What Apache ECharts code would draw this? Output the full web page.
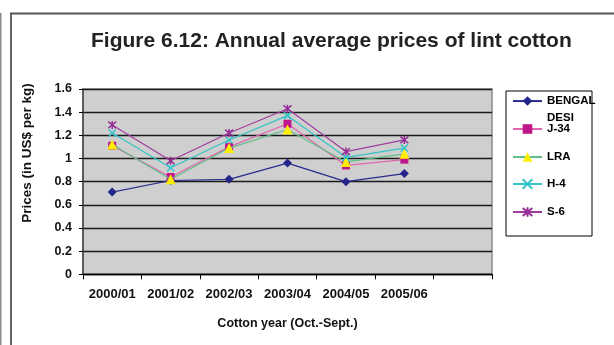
<!DOCTYPE html>
<html>
<head>
<meta charset="utf-8">
<script src="https://cdn.jsdelivr.net/npm/echarts@6/dist/echarts.min.js"></script>
<style>
  html, body { margin: 0; padding: 0; background: #fff; }
  #chart { width: 614px; height: 345px; }
</style>
</head>
<body>
<div id="chart"></div>
<script>
// Cotton years on the category axis (the last slot stays empty)
const years = ['2000/01', '2001/02', '2002/03', '2003/04', '2004/05', '2005/06', ''];

// Annual average lint prices, US$ per kg
const bengalDesi = [0.71, 0.81, 0.82, 0.96, 0.80, 0.87];
const j34        = [1.11, 0.84, 1.10, 1.30, 0.94, 0.99];
const lra        = [1.12, 0.82, 1.09, 1.25, 0.97, 1.04];
const h4         = [1.22, 0.92, 1.16, 1.37, 1.01, 1.09];
const s6         = [1.29, 0.98, 1.22, 1.43, 1.06, 1.16];

const seriesNames = ['BENGAL DESI', 'J-34', 'LRA', 'H-4', 'S-6'];

const FONT = 'Liberation Sans, Arial, sans-serif';
const crossPath = 'path://M0,0L10,10M10,0L0,10';
const starPath = 'path://M0,0L10,10M10,0L0,10M5,-1L5,11';

const styles = [
  { line: '#2b2b8f', marker: '#24248a', symbol: 'diamond', size: 9, stroke: false },
  { line: '#e065b0', marker: '#c0168c', symbol: 'rect', size: 8, stroke: false },
  { line: '#5fbf86', marker: '#ffee00', symbol: 'triangle', size: 10, stroke: false },
  { line: '#33c4c8', marker: '#33c4c8', symbol: crossPath, size: 7, stroke: true },
  { line: '#a03ca0', marker: '#952f95', symbol: starPath, size: 8, stroke: true }
];
const dataSets = [bengalDesi, j34, lra, h4, s6];

const series = seriesNames.map((name, i) => {
  const st = styles[i];
  return {
    name: name,
    type: 'line',
    data: dataSets[i],
    symbol: st.symbol,
    symbolSize: st.size,
    showAllSymbol: true,
    z: 3 + i,
    lineStyle: { color: st.line, width: 1.2 },
    itemStyle: st.stroke
      ? { color: 'rgba(0,0,0,0)', borderColor: st.marker, borderWidth: 1.5 }
      : { color: st.marker, borderWidth: 0 },
    emphasis: { disabled: true },
    animation: false
  };
});

// One legend block per series so each row sits at its own height
const legendRows = [101, 129, 157, 184, 212];
const legends = seriesNames.map((name, i) => ({
  data: [name],
  left: 512,
  top: i === 0 ? legendRows[i] - 25 : legendRows[i] - 7,
  padding: 0,
  itemWidth: 29,
  itemHeight: 12,
  itemGap: 0,
  selectedMode: false,
  // the long name wraps; a leading blank line keeps its first word level with the key
  formatter: n => n === 'BENGAL DESI' ? '\nBENGAL\nDESI' : n,
  textStyle: {
    fontFamily: FONT, fontWeight: 'bold', fontSize: 11.5, color: '#000',
    lineHeight: i === 0 ? 16.7 : 14
  }
}));

const option = {
  backgroundColor: '#fff',
  animation: false,
  title: {
    text: 'Figure 6.12: Annual average prices of lint cotton',
    left: 86, top: 26,
    textStyle: { fontFamily: FONT, fontWeight: 'bold', fontSize: 21, color: '#222' }
  },
  legend: legends,
  grid: {
    left: 83, right: 122, top: 89, bottom: 70.7, show: true,
    backgroundColor: '#cfcfcf', borderColor: '#8a8a8a', borderWidth: 1.5
  },
  xAxis: {
    type: 'category', data: years, boundaryGap: true,
    axisLine: { lineStyle: { color: '#000', width: 1.3 } },
    axisTick: { show: true, length: 5, lineStyle: { color: '#000' } },
    axisLabel: { interval: 0, margin: 14, fontFamily: FONT, fontWeight: 'bold', fontSize: 13, color: '#111' },
    name: 'Cotton year (Oct.-Sept.)', nameLocation: 'middle', nameGap: 43,
    nameTextStyle: { fontFamily: FONT, fontWeight: 'bold', fontSize: 12.5, color: '#111' }
  },
  yAxis: {
    type: 'value', min: 0, max: 1.6, interval: 0.2,
    axisLine: { show: true, lineStyle: { color: '#444', width: 1.5 } },
    axisTick: { show: true, length: 4, lineStyle: { color: '#000' } },
    axisLabel: { margin: 11, fontFamily: FONT, fontWeight: 'bold', fontSize: 12.5, color: '#111' },
    splitLine: { show: true, lineStyle: { color: '#1a1a1a', width: 1.3 } }
  },
  graphic: [
    // outer frame lines
    { type: 'line', shape: { x1: 0.75, y1: 13, x2: 0.75, y2: 345 }, style: { stroke: '#8a8a8a', lineWidth: 1.5 }, silent: true },
    { type: 'line', shape: { x1: 11, y1: 13.5, x2: 11, y2: 345 }, style: { stroke: '#555', lineWidth: 1.8 }, silent: true },
    { type: 'line', shape: { x1: 10, y1: 13.5, x2: 614, y2: 13.5 }, style: { stroke: '#555', lineWidth: 1.8 }, silent: true },
    // legend frame
    { type: 'rect', shape: { x: 506, y: 91, width: 86, height: 145 }, style: { fill: '#fff', stroke: '#000', lineWidth: 1 }, z: -1, silent: true },
    // value axis title
    { type: 'text', x: 27.5, y: 153, rotation: Math.PI / 2,
      style: { text: 'Prices (in US$ per kg)', fontFamily: FONT, fontWeight: 'bold', fontSize: 13.5,
               fill: '#111', align: 'center', verticalAlign: 'middle' }, silent: true }
  ],
  series: series
};

const chart = echarts.init(document.getElementById('chart'), null, { renderer: 'canvas' });
chart.setOption(option);
</script>
</body>
</html>
